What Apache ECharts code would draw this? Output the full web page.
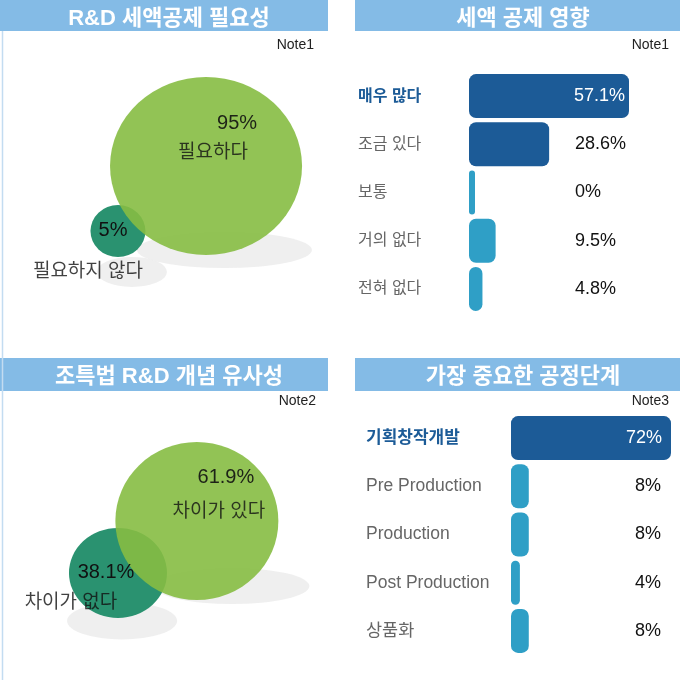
<!DOCTYPE html>
<html>
<head>
<meta charset="utf-8">
<script src="https://cdn.jsdelivr.net/npm/echarts@6/dist/echarts.min.js"></script>
<style>
  html, body { margin: 0; padding: 0; background: #fff; }
  #main { width: 680px; height: 680px; }
</style>
</head>
<body>
<div id="main"></div>
<script>
// 데이터
var needCats = ['필요하다', '필요하지 않다'];
var needValues = [95, 5];
var simCats = ['차이가 있다', '차이가 없다'];
var simValues = [61.9, 38.1];
var effectCats = ['매우 많다', '조금 있다', '보통', '거의 없다', '전혀 없다'];
var effectValues = [57.1, 28.6, 0, 9.5, 4.8];
var stageCats = ['기획창작개발', 'Pre Production', 'Production', 'Post Production', '상품화'];
var stageValues = [72, 8, 8, 4, 8];

var FONT = '"Liberation Sans", "Noto Sans CJK KR", sans-serif';
var DARK = '#1c5b97', TEAL = '#2f9fc6';

// 버블 배치 (격자 0~100 단위) - 데이터와 분리
var needLayout = [
    {pos: [60.6, 58], size: [192, 178], shadow: [66, 30], shadowSize: [175, 36], valOff: [31, -43], nameOff: [7, -13], color: '#86bd42'},
    {pos: [34.7, 36.3], size: [55, 52], shadow: [38.8, 22.7], shadowSize: [70, 30], valOff: [-5, -1], nameOff: [-30, 41], color: '#2a9270'}
];
var simLayout = [
    {pos: [57.9, 53], size: [163, 158], shadow: [68.2, 31.3], shadowSize: [155, 36], valOff: [29, -44], nameOff: [22, -9], color: '#86bd42'},
    {pos: [34.7, 35.7], size: [98, 90], shadow: [35.9, 19.7], shadowSize: [110, 37], valOff: [-12, 0], nameOff: [-47, 30], color: '#2a9270'}
];

function bubbleSeries(cats, values, layout, gi) {
    var order = [1, 0]; // 작은 원 먼저, 큰 원 위에
    var shadows = {
        type: 'scatter', xAxisIndex: gi, yAxisIndex: gi, z: 1, silent: true,
        symbol: 'circle',
        itemStyle: {color: '#ebebeb'},
        data: order.map(function (i) {
            return {value: layout[i].shadow, symbolSize: layout[i].shadowSize};
        })
    };
    var circles = {
        type: 'scatter', xAxisIndex: gi, yAxisIndex: gi, z: 2,
        symbol: 'circle',
        data: order.map(function (i) {
            return {
                value: layout[i].pos, symbolSize: layout[i].size,
                itemStyle: {color: layout[i].color, opacity: i === 0 ? 0.9 : 1},
                label: {show: true, position: 'inside', offset: layout[i].valOff,
                    formatter: values[i] + '%', color: '#111', fontSize: 20, fontFamily: FONT}
            };
        })
    };
    var names = {
        type: 'scatter', xAxisIndex: gi, yAxisIndex: gi, z: 3, symbolSize: 0,
        data: order.map(function (i) {
            return {
                value: layout[i].pos,
                label: {show: true, position: 'inside', offset: layout[i].nameOff,
                    formatter: cats[i], color: '#111', fontSize: 19, fontFamily: FONT}
            };
        })
    };
    return [shadows, circles, names];
}

function barData(values, colors, inColor, dist) {
    return values.map(function (v, i) {
        var item = {value: v, itemStyle: {color: colors[i]}};
        if (i === 0) {
            item.label = {show: true, position: 'insideRight', distance: dist, color: inColor,
                formatter: v + '%', fontSize: 18, fontFamily: FONT};
        }
        return item;
    });
}

var myChart = echarts.init(document.getElementById('main'));

var titleBox = {fill: '#84bbe6'};
var option = {
    backgroundColor: '#fff',
    animation: false,
    title: [
        {text: 'R&D 세액공제 필요성', left: 164, top: 3, textAlign: 'center'},
        {text: '세액 공제 영향', left: 518, top: 3, textAlign: 'center'},
        {text: '조특법 R&D 개념 유사성', left: 164, top: 361, textAlign: 'center'},
        {text: '가장 중요한 공정단계', left: 518, top: 361, textAlign: 'center'}
    ].map(function (t) {
        t.textStyle = {color: '#fff', fontSize: 22, fontWeight: 'bold', fontFamily: FONT};
        return t;
    }),
    graphic: [
        {type: 'rect', shape: {x: 0, y: 0, width: 328, height: 31}, style: titleBox, z: -1},
        {type: 'rect', shape: {x: 355, y: 0, width: 325, height: 31}, style: titleBox, z: -1},
        {type: 'rect', shape: {x: 0, y: 358, width: 328, height: 33}, style: titleBox, z: -1},
        {type: 'rect', shape: {x: 355, y: 358, width: 325, height: 33}, style: titleBox, z: -1},
        {type: 'line', shape: {x1: 2.5, y1: 31, x2: 2.5, y2: 680}, style: {stroke: '#c3dcf1', lineWidth: 1.5}},
        {type: 'text', right: 366, top: 38, style: {text: 'Note1', fontSize: 14, fill: '#222', fontFamily: FONT}},
        {type: 'text', right: 11, top: 38, style: {text: 'Note1', fontSize: 14, fill: '#222', fontFamily: FONT}},
        {type: 'text', right: 364, top: 394, style: {text: 'Note2', fontSize: 14, fill: '#222', fontFamily: FONT}},
        {type: 'text', right: 11, top: 394, style: {text: 'Note3', fontSize: 14, fill: '#222', fontFamily: FONT}}
    ],
    grid: [
        {left: 0, top: 40, width: 340, height: 300},
        {left: 469, top: 72, right: 51, height: 241},
        {left: 0, top: 380, width: 340, height: 300},
        {left: 511, top: 414, right: 9, height: 241}
    ],
    xAxis: [
        {gridIndex: 0, type: 'value', min: 0, max: 100, show: false},
        {gridIndex: 1, type: 'value', min: 0, max: 'dataMax', show: false},
        {gridIndex: 2, type: 'value', min: 0, max: 100, show: false},
        {gridIndex: 3, type: 'value', min: 0, max: 'dataMax', show: false}
    ],
    yAxis: [
        {gridIndex: 0, type: 'value', min: 0, max: 100, show: false},
        {
            gridIndex: 1, type: 'category', inverse: true, data: effectCats,
            axisLine: {show: false}, axisTick: {show: false},
            axisLabel: {
                align: 'left', margin: 111, fontSize: 16, color: '#666', fontFamily: FONT,
                formatter: function (v, i) { return i === 0 ? '{hl|' + v + '}' : v; },
                rich: {hl: {color: DARK, fontSize: 16, fontWeight: 'bold', fontFamily: FONT}}
            }
        },
        {gridIndex: 2, type: 'value', min: 0, max: 100, show: false},
        {
            gridIndex: 3, type: 'category', inverse: true, data: stageCats,
            axisLine: {show: false}, axisTick: {show: false},
            axisLabel: {
                align: 'left', margin: 145, fontSize: 17.5, color: '#666', fontFamily: FONT,
                formatter: function (v, i) { return i === 0 ? '{hl|' + v + '}' : v; },
                rich: {hl: {color: DARK, fontSize: 17, fontWeight: 'bold', fontFamily: FONT}}
            }
        },
        // 값 라벨 열
        {
            gridIndex: 1, type: 'category', inverse: true, position: 'right', data: effectCats,
            axisLine: {show: false}, axisTick: {show: false},
            axisLabel: {
                align: 'left', margin: -54, fontSize: 18, color: '#111', fontFamily: FONT,
                formatter: function (v, i) { return i === 0 ? '' : effectValues[i] + '%'; }
            }
        },
        {
            gridIndex: 3, type: 'category', inverse: true, position: 'right', data: stageCats,
            axisLine: {show: false}, axisTick: {show: false},
            axisLabel: {
                align: 'right', margin: -10, fontSize: 18, color: '#111', fontFamily: FONT,
                formatter: function (v, i) { return i === 0 ? '' : stageValues[i] + '%'; }
            }
        }
    ],
    series: [].concat(
        bubbleSeries(needCats, needValues, needLayout, 0),
        bubbleSeries(simCats, simValues, simLayout, 2),
        [{
            type: 'bar', xAxisIndex: 1, yAxisIndex: 1, barWidth: 44, barMinHeight: 6,
            itemStyle: {borderRadius: 7},
            data: barData(effectValues, [DARK, DARK, TEAL, TEAL, TEAL], '#fff', 4)
        }, {
            type: 'bar', xAxisIndex: 3, yAxisIndex: 3, barWidth: 44, barMinHeight: 6,
            itemStyle: {borderRadius: 7},
            data: barData(stageValues, [DARK, TEAL, TEAL, TEAL, TEAL], '#fff', 9)
        }]
    )
};
myChart.setOption(option);
</script>
</body>
</html>
